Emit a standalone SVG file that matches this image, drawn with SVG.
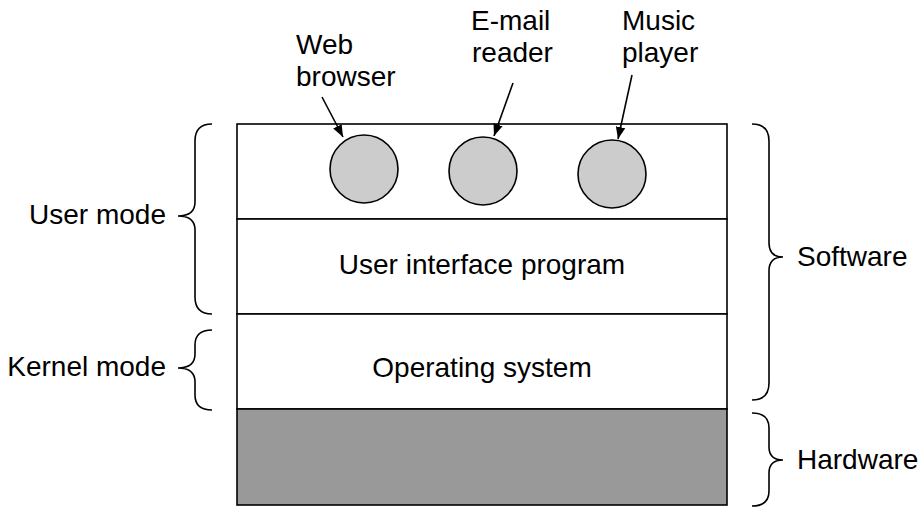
<svg xmlns="http://www.w3.org/2000/svg" width="919" height="510" viewBox="0 0 919 510">
<style>
text{font-family:"Liberation Sans",Arial,sans-serif;font-size:28px;fill:#000}
.layer{fill:#fff;stroke:#000;stroke-width:1.6}
.hw{fill:#999;stroke:#000;stroke-width:1.6}
.app{fill:#ccc;stroke:#000;stroke-width:1.6}
.brace{fill:none;stroke:#000;stroke-width:1.6}
.arrow{stroke:#000;stroke-width:1.6;fill:none;marker-end:url(#ah)}
</style>
<defs>
<marker id="ah" viewBox="0 0 10 10" refX="10" refY="5" markerWidth="12" markerHeight="12" markerUnits="userSpaceOnUse" orient="auto">
<path d="M0,1 L10,5 L0,9 Z" fill="#000"/>
</marker>
</defs>
<g id="layer-apps"><rect class="layer" x="237" y="124" width="490" height="95"/></g>
<g id="layer-ui"><rect class="layer" x="237" y="219" width="490" height="95"/><text x="482" y="274" text-anchor="middle">User interface program</text></g>
<g id="layer-os"><rect class="layer" x="237" y="314" width="490" height="95"/><text x="482" y="377" text-anchor="middle">Operating system</text></g>
<g id="layer-hw"><rect class="hw" x="237" y="409" width="490" height="96"/></g>
<g id="web-browser"><circle class="app" cx="364" cy="169" r="34"/><text x="296" y="54">Web</text><text x="296" y="86">browser</text></g>
<g id="email-reader"><circle class="app" cx="483" cy="171" r="34"/><text x="471" y="30">E-mail</text><text x="472" y="62">reader</text></g>
<g id="music-player"><circle class="app" cx="612" cy="174" r="34"/><text x="622" y="30">Music</text><text x="622" y="62">player</text></g>
<g id="connectors">
<line class="arrow" x1="322" y1="97" x2="343" y2="137"/>
<line class="arrow" x1="513" y1="83" x2="494" y2="136"/>
<line class="arrow" x1="632" y1="75" x2="618" y2="139"/>
</g>
<g id="user-mode"><path class="brace" d="M212,124 Q195,124 195,141 L195,202 Q195,216 178,216 Q195,216 195,230 L195,297 Q195,314 212,314"/><text x="166" y="224" text-anchor="end">User mode</text></g>
<g id="kernel-mode"><path class="brace" d="M212,330 Q195,330 195,345 L195,354 Q195,368 178,368 Q195,368 195,382 L195,395 Q195,410 212,410"/><text x="166" y="376" text-anchor="end">Kernel mode</text></g>
<g id="software"><path class="brace" d="M752,124 Q769,124 769,141 L769,243 Q769,257 783,257 Q769,257 769,271 L769,383 Q769,400 752,400"/><text x="797" y="266">Software</text></g>
<g id="hardware"><path class="brace" d="M752,413 Q769,413 769,428 L769,447 Q769,460 783,460 Q769,460 769,473 L769,491 Q769,506 752,506"/><text x="797" y="469">Hardware</text></g>
</svg>
